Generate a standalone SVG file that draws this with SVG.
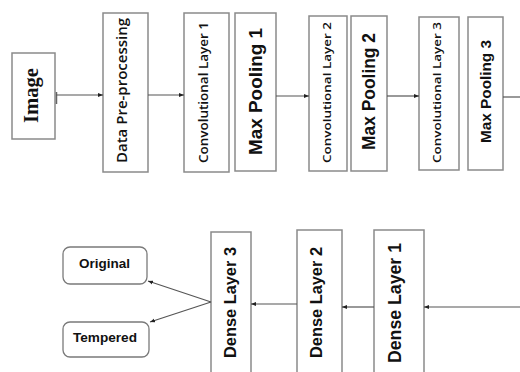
<svg xmlns="http://www.w3.org/2000/svg" width="520" height="372" viewBox="0 0 520 372">
  <style>
    .box { fill: #fff; stroke: #8a8a8a; stroke-width: 1.5; }
    .out { fill: #fff; stroke: #7a7a7a; stroke-width: 1.3; }
    .lbl { font-family: "Liberation Sans", Arial, sans-serif; font-weight: bold; fill: #111; text-anchor: middle; }
    .thin { font-family: "Open Sans", "Liberation Sans", sans-serif; font-weight: 600; }
    .serif { font-family: "Liberation Serif", "Times New Roman", serif; }
    .wire { fill: none; stroke: #555; stroke-width: 1.2; }
  </style>
  <defs>
    <marker id="head" viewBox="0 0 10 10" refX="10" refY="5" markerWidth="5" markerHeight="5" orient="auto" markerUnits="userSpaceOnUse">
      <path d="M0,1 L10,5 L0,9 z" fill="#222"/>
    </marker>
  </defs>

  <rect width="520" height="372" fill="#fff"/>

  <!-- feature extraction row -->
  <g id="image">
    <rect class="box" x="12" y="53" width="43" height="86"/>
    <text class="lbl serif" font-size="20" transform="translate(38,95.5) rotate(-90)" textLength="55" lengthAdjust="spacingAndGlyphs">Image</text>
  </g>
  <g id="preprocessing">
    <rect class="box" x="103" y="13" width="45" height="159"/>
    <text class="lbl thin" font-size="15" transform="translate(127,90.5) rotate(-90)" textLength="145" lengthAdjust="spacingAndGlyphs">Data Pre-processing</text>
  </g>
  <g id="conv1">
    <rect class="box" x="184" y="13" width="45" height="159"/>
    <text class="lbl thin" font-size="12" transform="translate(208,92.5) rotate(-90)" textLength="141" lengthAdjust="spacingAndGlyphs">Convolutional Layer 1</text>
  </g>
  <g id="pool1">
    <rect class="box" x="235" y="13" width="41" height="158"/>
    <text class="lbl" font-size="19" transform="translate(262,91.5) rotate(-90)" textLength="127" lengthAdjust="spacingAndGlyphs">Max Pooling 1</text>
  </g>
  <g id="conv2">
    <rect class="box" x="309" y="16" width="38" height="155"/>
    <text class="lbl thin" font-size="11.5" transform="translate(331,92.5) rotate(-90)" textLength="141" lengthAdjust="spacingAndGlyphs">Convolutional Layer 2</text>
  </g>
  <g id="pool2">
    <rect class="box" x="351" y="16" width="36" height="155"/>
    <text class="lbl" font-size="18" transform="translate(375,91.5) rotate(-90)" textLength="117" lengthAdjust="spacingAndGlyphs">Max Pooling 2</text>
  </g>
  <g id="conv3">
    <rect class="box" x="419" y="17" width="40" height="153"/>
    <text class="lbl thin" font-size="11.5" transform="translate(441,92.5) rotate(-90)" textLength="141" lengthAdjust="spacingAndGlyphs">Convolutional Layer 3</text>
  </g>
  <g id="pool3">
    <rect class="box" x="468" y="17" width="35" height="153"/>
    <text class="lbl" font-size="15" transform="translate(491,91.5) rotate(-90)" textLength="103" lengthAdjust="spacingAndGlyphs">Max Pooling 3</text>
  </g>

  <!-- classification row -->
  <g id="dense1">
    <rect class="box" x="374" y="230" width="50" height="150"/>
    <text class="lbl" font-size="18" transform="translate(401,303) rotate(-90)" textLength="120" lengthAdjust="spacingAndGlyphs">Dense Layer 1</text>
  </g>
  <g id="dense2">
    <rect class="box" x="297" y="230" width="45" height="150"/>
    <text class="lbl" font-size="17" transform="translate(322,302.5) rotate(-90)" textLength="111" lengthAdjust="spacingAndGlyphs">Dense Layer 2</text>
  </g>
  <g id="dense3">
    <rect class="box" x="211" y="232" width="40" height="148"/>
    <text class="lbl" font-size="17" transform="translate(236,302.5) rotate(-90)" textLength="111" lengthAdjust="spacingAndGlyphs">Dense Layer 3</text>
  </g>
  <g id="original">
    <rect class="out" x="63" y="247" width="84" height="37" rx="7"/>
    <text class="lbl" font-size="13" x="104.5" y="268" textLength="51" lengthAdjust="spacingAndGlyphs">Original</text>
  </g>
  <g id="tempered">
    <rect class="out" x="63" y="322" width="86" height="35" rx="7"/>
    <text class="lbl" font-size="13" x="105" y="342" textLength="64" lengthAdjust="spacingAndGlyphs">Tempered</text>
  </g>

  <!-- connectors -->
  <g id="connectors">
    <line x1="56.5" y1="92" x2="56.5" y2="104" stroke="#666" stroke-width="1.5"/>
    <line class="wire" x1="56" y1="95" x2="103" y2="95" marker-end="url(#head)"/>
    <line class="wire" x1="148" y1="95" x2="184" y2="95" marker-end="url(#head)"/>
    <line class="wire" x1="276" y1="96" x2="309" y2="96" marker-end="url(#head)"/>
    <line class="wire" x1="387" y1="96" x2="419" y2="96" marker-end="url(#head)"/>
    <line class="wire" x1="503" y1="97" x2="520" y2="97"/>
    <line class="wire" x1="520" y1="307" x2="424" y2="307" marker-end="url(#head)"/>
    <line class="wire" x1="374" y1="307" x2="342" y2="307" marker-end="url(#head)"/>
    <line class="wire" x1="297" y1="304" x2="251" y2="304" marker-end="url(#head)"/>
    <line class="wire" x1="211" y1="302" x2="148" y2="281" marker-end="url(#head)"/>
    <line class="wire" x1="211" y1="302" x2="150" y2="322" marker-end="url(#head)"/>
  </g>
</svg>
